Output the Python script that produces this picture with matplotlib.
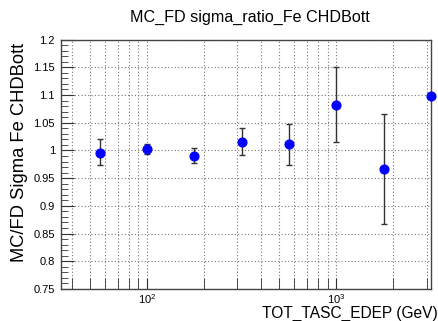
import matplotlib
matplotlib.use('Agg')
import matplotlib.pyplot as plt
from matplotlib.ticker import LogLocator, MultipleLocator, NullFormatter, FuncFormatter

plt.rcParams['font.family'] = ['Liberation Sans', 'DejaVu Sans']

# bin centres in TOT_TASC_EDEP (GeV) and the MC/FD sigma ratio per bin
energy = [56.2, 100.0, 177.8, 316.2, 562.3, 1000.0, 1778.0, 3162.0]
ratio = [0.996, 1.002, 0.990, 1.015, 1.011, 1.082, 0.966, 1.099]
err_lo = [0.023, 0.009, 0.013, 0.024, 0.038, 0.066, 0.099, 0.0]
err_hi = [0.025, 0.010, 0.015, 0.025, 0.037, 0.068, 0.099, 0.0]

fig = plt.figure(figsize=(4.39, 3.21), dpi=100)
ax = fig.add_axes([0.138, 0.0997, 0.844, 0.777])

ax.errorbar(energy, ratio, yerr=[err_lo, err_hi], fmt='o', color='#0000ff',
            markersize=6.3, ecolor='#333333', elinewidth=1.0, capsize=2.0,
            capthick=1.0, clip_on=False, zorder=3)

ax.set_xscale('log')
ax.set_xlim(35, 3162)
ax.set_ylim(0.75, 1.2)

ax.xaxis.set_major_locator(LogLocator(base=10, numticks=10))
ax.xaxis.set_minor_locator(LogLocator(base=10, subs=range(2, 10), numticks=20))
ax.xaxis.set_minor_formatter(NullFormatter())
ax.yaxis.set_major_locator(MultipleLocator(0.05))
ax.yaxis.set_minor_locator(MultipleLocator(0.01))
ax.yaxis.set_major_formatter(FuncFormatter(lambda v, p: f'{v:.2f}'.rstrip('0').rstrip('.')))

ax.grid(True, which='major', axis='y', linestyle=(0, (1, 2)), color='#777777', linewidth=0.8)
ax.grid(True, which='both', axis='x', linestyle=(0, (1, 2)), color='#777777', linewidth=0.8)

ax.tick_params(axis='both', which='both', direction='in', labelsize=8, colors='#333333',
               labelcolor='black', top=False, right=False)
ax.tick_params(axis='y', which='major', length=9, pad=4)
ax.tick_params(axis='y', which='minor', length=5)
ax.tick_params(axis='x', which='major', length=8, pad=2)
ax.tick_params(axis='x', which='minor', length=8)

for side in ax.spines.values():
    side.set_color('#444444')
    side.set_linewidth(1.0)

fig.text(0.57, 0.947, 'MC_FD sigma_ratio_Fe CHDBott', ha='center', va='center', fontsize=11.6)
fig.text(0.997, 0.025, 'TOT_TASC_EDEP (GeV)', ha='right', va='center', fontsize=11.2)
ax.set_ylabel('MC/FD Sigma Fe CHDBott', fontsize=13.2, ha='right', va='center')
ax.yaxis.set_label_coords(-0.11, 0.985)

fig.savefig('out.png', dpi=100)
